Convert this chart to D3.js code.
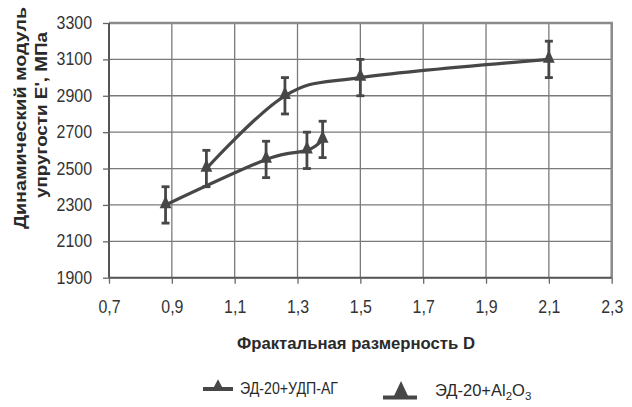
<!DOCTYPE html>
<html><head><meta charset="utf-8">
<script src="https://cdn.jsdelivr.net/npm/d3@7"></script>
<style>
html,body{margin:0;padding:0;background:#fff;}
svg{display:block;font-family:"Liberation Sans",Arial,sans-serif;}
</style></head>
<body>
<svg id="chart" width="632" height="407"></svg>
<script>
// Data
const xTicks = [0.7, 0.9, 1.1, 1.3, 1.5, 1.7, 1.9, 2.1, 2.3];
const yTicks = [1900, 2100, 2300, 2500, 2700, 2900, 3100, 3300];
const seriesNames = ["ЭД-20+УДП-АГ", "ЭД-20+Al2O3"];
const udpD = [1.01, 1.26, 1.5, 2.1];
const udpE = [2500, 2900, 3000, 3100];
const udpErr = [100, 100, 100, 100];
const alD = [0.88, 1.2, 1.33, 1.38];
const alE = [2300, 2550, 2600, 2660];
const alErr = [100, 100, 100, 100];

const svg = d3.select("#chart");
const L = 109, R = 611.7, T = 23, B = 277.7;
const x = d3.scaleLinear().domain([0.7, 2.3]).range([L, R]);
const y = d3.scaleLinear().domain([1900, 3300]).range([B, T]);
const ink = "#474747";
const fmt = d => d3.format(".1f")(d).replace(".", ",");

// squeeze text horizontally (reference glyphs are taller than wide)
function squeeze(sel, k) {
  sel.each(function () {
    const w = this.getComputedTextLength();
    d3.select(this).attr("textLength", w * k).attr("lengthAdjust", "spacingAndGlyphs");
  });
}

// gridlines
const g = svg.append("g");
g.selectAll("line.h").data(yTicks).join("line")
  .attr("x1", L).attr("x2", R).attr("y1", d => y(d)).attr("y2", d => y(d))
  .attr("stroke", "#7a7a7a").attr("stroke-width", 1.3);
g.selectAll("line.v").data(xTicks).join("line")
  .attr("y1", T).attr("y2", B).attr("x1", d => x(d)).attr("x2", d => x(d))
  .attr("stroke", "#7a7a7a").attr("stroke-width", 1.3);
// top/right border
svg.append("path").attr("d", `M${L},${T}H${R}V${B}`)
  .attr("fill", "none").attr("stroke", "#8a8a8a").attr("stroke-width", 2.5);

// axes
const yAxis = svg.append("g").attr("transform", `translate(${L},0)`)
  .call(d3.axisLeft(y).tickValues(yTicks).tickSize(6).tickPadding(11).tickFormat(d3.format("d")));
const xAxis = svg.append("g").attr("transform", `translate(0,${B})`)
  .call(d3.axisBottom(x).tickValues(xTicks).tickSize(6).tickPadding(17).tickFormat(fmt));
[yAxis, xAxis].forEach(a => {
  a.select(".domain").attr("stroke", "#555").attr("stroke-width", 2);
  a.selectAll(".tick line").attr("stroke", "#666").attr("stroke-width", 1.3);
  a.selectAll("text").attr("font-size", 17.5).attr("fill", "#333")
    .attr("font-family", "'Liberation Sans', Arial, sans-serif");
  squeeze(a.selectAll("text"), 0.91);
});
xAxis.select(".domain").attr("d", `M${L},0H${R}`);
yAxis.select(".domain").attr("d", `M0,${B}V${T}`);

// series
const line = d3.line().x(d => x(d[0])).y(d => y(d[1])).curve(d3.curveCardinal.tension(0));
const series = [
  d3.zip(udpD, udpE, udpErr),
  d3.zip(alD, alE, alErr)
];
const tri = d3.symbol().type(d3.symbolTriangle).size(60);
series.forEach(s => {
  svg.append("path").attr("d", line(s)).attr("fill", "none")
    .attr("stroke", ink).attr("stroke-width", 3.2).attr("stroke-linecap", "round");
  const eb = svg.append("g");
  s.forEach(d => {
    const cx = x(d[0]);
    eb.append("line").attr("x1", cx).attr("x2", cx).attr("y1", y(d[1] - d[2])).attr("y2", y(d[1] + d[2]))
      .attr("stroke", ink).attr("stroke-width", 2.8);
    [d[1] - d[2], d[1] + d[2]].forEach(v => {
      eb.append("line").attr("x1", cx - 4).attr("x2", cx + 4).attr("y1", y(v)).attr("y2", y(v))
        .attr("stroke", ink).attr("stroke-width", 2.8);
    });
    eb.append("path").attr("d", tri()).attr("transform", `translate(${cx},${y(d[1]) - 1}) scale(1,1.25)`)
      .attr("fill", ink);
  });
});

// axis titles
svg.append("text").attr("x", 356).attr("y", 349).attr("text-anchor", "middle")
  .attr("font-size", 17).attr("font-weight", "bold").attr("fill", "#2a2a2a")
  .attr("textLength", 238).attr("lengthAdjust", "spacingAndGlyphs")
  .text("Фрактальная размерность D");
const yl = svg.append("g").attr("font-size", 16).attr("font-weight", "bold").attr("fill", "#2a2a2a");
yl.append("text").attr("transform", "translate(26,118) rotate(-90)").attr("text-anchor", "middle")
  .attr("textLength", 222).attr("lengthAdjust", "spacingAndGlyphs").text("Динамический модуль");
yl.append("text").attr("transform", "translate(47,115) rotate(-90)").attr("text-anchor", "middle")
  .attr("textLength", 166).attr("lengthAdjust", "spacingAndGlyphs").text("упругости Е', МПа");

// legend
const lg = svg.append("g");
lg.append("line").attr("x1", 203).attr("x2", 233).attr("y1", 389).attr("y2", 389)
  .attr("stroke", ink).attr("stroke-width", 4);
lg.append("path").attr("d", d3.symbol().type(d3.symbolTriangle).size(55)())
  .attr("transform", "translate(218,386.5) scale(1,1.1)").attr("fill", ink);
lg.append("text").attr("x", 240).attr("y", 394).attr("font-size", 17).attr("fill", "#2a2a2a")
  .attr("textLength", 98).attr("lengthAdjust", "spacingAndGlyphs").text(seriesNames[0]);
lg.append("line").attr("x1", 383).attr("x2", 417).attr("y1", 397.5).attr("y2", 397.5)
  .attr("stroke", ink).attr("stroke-width", 4);
lg.append("path").attr("d", "M393.5,397 L401,381 L408.5,397 Z").attr("fill", ink);
const t2 = lg.append("text").attr("x", 435).attr("y", 396).attr("font-size", 16.5).attr("fill", "#2a2a2a");
const parts = seriesNames[1].match(/[^0-9]+|[0-9]+/g);
let prevSub = false;
parts.forEach((p, i) => {
  const isNum = /^[0-9]+$/.test(p);
  const sub = isNum && i > 0 && /[A-Za-z]$/.test(parts[i - 1]);
  const ts = t2.append("tspan").text(p);
  if (sub) ts.attr("font-size", 11.5).attr("dy", 4);
  else if (prevSub) ts.attr("dy", -4);
  prevSub = sub;
});
</script>
</body></html>
